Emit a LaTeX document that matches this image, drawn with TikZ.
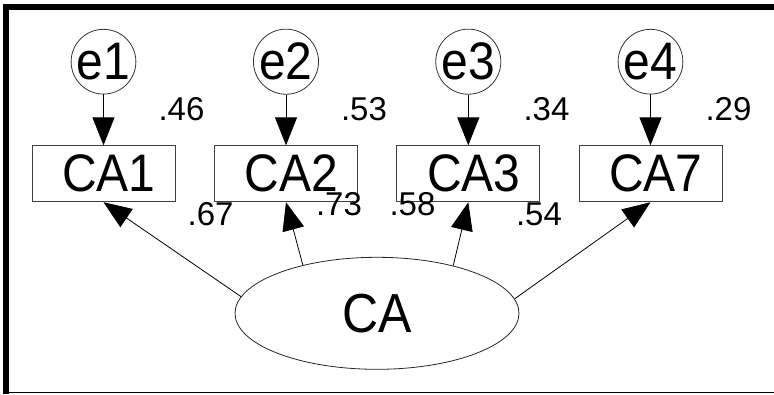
\documentclass[tikz,border=0pt]{standalone}
\usepackage{fontspec}
\setmainfont{Liberation Sans}
\usetikzlibrary{arrows.meta,shapes.geometric}

% tall sans labels for the variables
\newcommand{\tallname}[1]{\scalebox{1}[1.1]{#1}}

\tikzset{
  observed/.style={draw=black!75, line width=0.9pt, minimum width=143pt, minimum height=56pt,
                   inner sep=0pt, font=\fontsize{48}{48}\selectfont},
  errvar/.style={draw=black!80, circle, line width=0.8pt, minimum size=56pt, inner sep=0pt,
                 font=\fontsize{48}{48}\selectfont},
  latent/.style={draw=black!85, ellipse, line width=0.8pt, minimum width=284pt, minimum height=112pt,
                 inner sep=0pt, font=\fontsize{50}{50}\selectfont},
  coef/.style={inner sep=0pt, font=\fontsize{33}{33}\selectfont},
  path/.style={draw=black, line width=0.8pt, -{Triangle[length=28pt,width=22pt]}},
}

\begin{document}
\begin{tikzpicture}[x=1pt,y=-1pt]
  \useasboundingbox (0,0) rectangle (774,394);
  % frame: heavy top and left bars, thin base line
  \fill[black] (3,4) rectangle (774,10);
  \fill[black] (3,4) rectangle (9,394);
  \fill[black] (9,391.8) rectangle (774,393.3);

  % error terms
  \node[errvar] (e1) at (103.5,61.7) {\tallname{e1}};
  \node[errvar] (e2) at (286,61.7) {\tallname{e2}};
  \node[errvar] (e3) at (468.3,61.7) {\tallname{e3}};
  \node[errvar] (e4) at (650.5,61.7) {\tallname{e4}};

  % observed indicators
  \node[observed] (ca1) at (103.5,173.8) {\hspace{11pt}\tallname{CA1}};
  \node[observed] (ca2) at (286,173.8) {\hspace{11pt}\tallname{CA2}};
  \node[observed] (ca3) at (468.3,173.8) {\hspace{11pt}\tallname{CA3}};
  \node[observed] (ca7) at (650.5,173.8) {\hspace{11pt}\tallname{CA7}};

  % latent factor
  \node[latent] (ca) at (377,313.3) {\tallname{CA}};

  % error paths
  \draw[path] (e1) -- (ca1);
  \draw[path] (e2) -- (ca2);
  \draw[path] (e3) -- (ca3);
  \draw[path] (e4) -- (ca7);

  % factor loadings
  \draw[path] (ca.173.8) -- (ca1.south);
  \draw[path] (ca.147.3) -- (ca2.south);
  \draw[path] (ca.32.7) -- (ca3.south);
  \draw[path] (ca.6.2) -- (ca7.south);

  % squared multiple correlations
  \node[coef] (r1) at (181.5,109) {.46};
  \node[coef] (r2) at (364,109) {.53};
  \node[coef] (r3) at (546.5,109) {.34};
  \node[coef] (r4) at (728.5,109) {.29};

  % standardized loadings
  \node[coef] (l1) at (210.6,214) {.67};
  \node[coef] (l2) at (339,204.5) {.73};
  \node[coef] (l3) at (412.5,204.5) {.58};
  \node[coef] (l4) at (539,214) {.54};
\end{tikzpicture}
\end{document}
